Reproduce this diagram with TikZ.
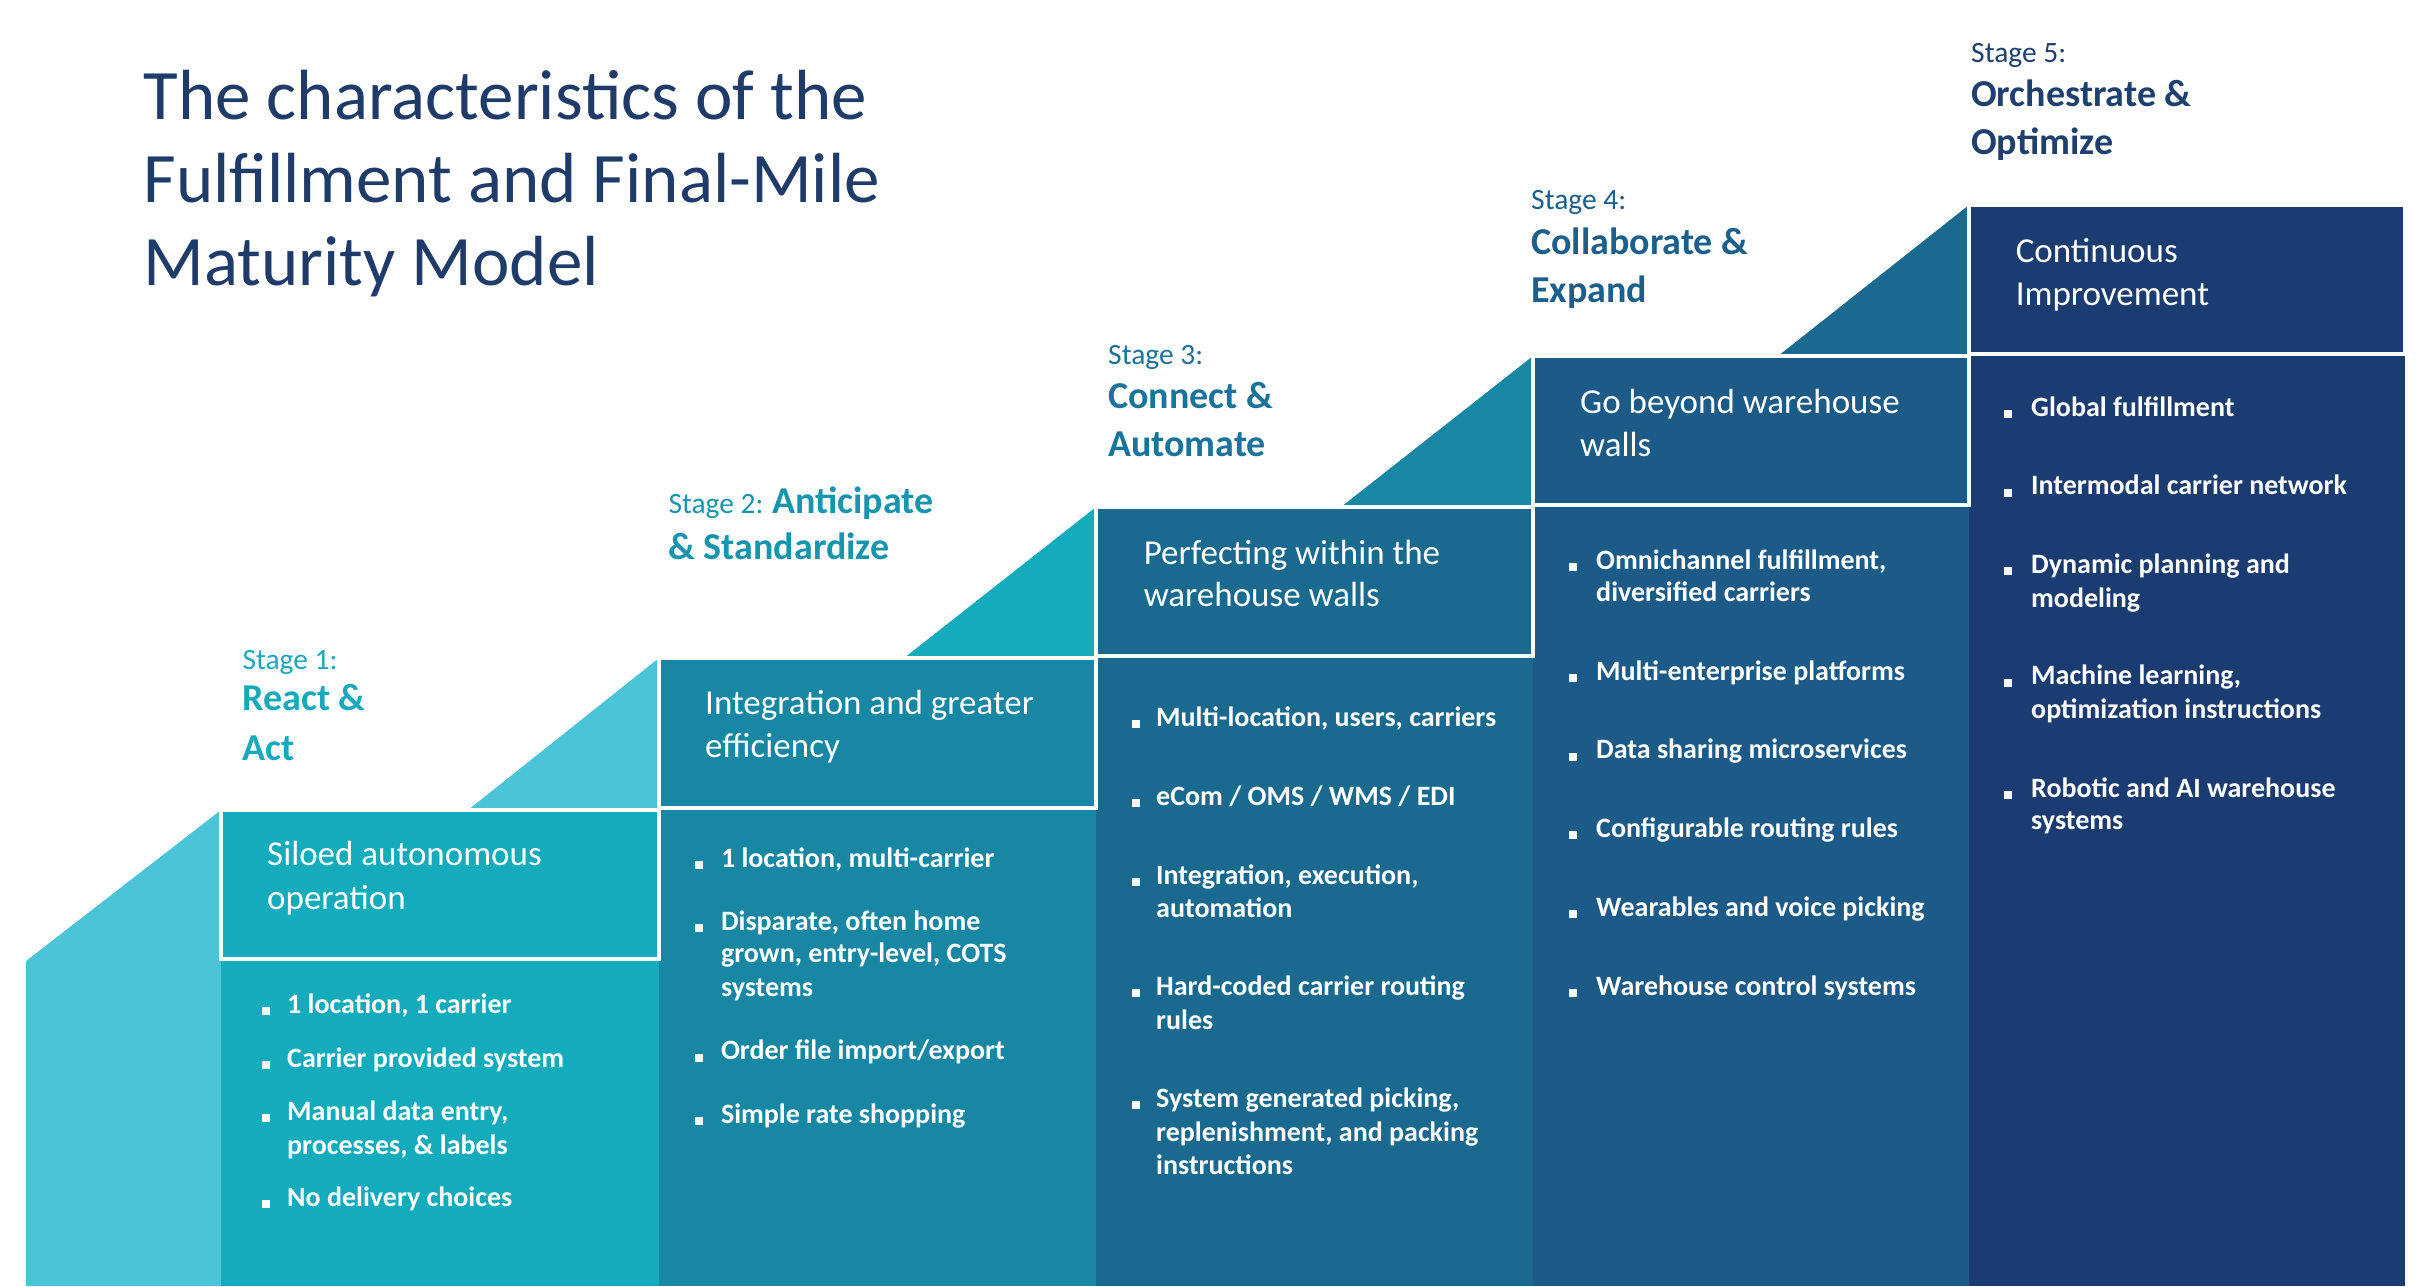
\documentclass[tikz,border=0pt]{standalone}
\usepackage{fontspec}
\setmainfont{Carlito}
\definecolor{cA}{HTML}{4BC4D8}
\definecolor{cB}{HTML}{14ABBD}
\definecolor{cC}{HTML}{1787A3}
\definecolor{cD}{HTML}{1A6A8F}
\definecolor{cE}{HTML}{1C5B87}
\definecolor{cF}{HTML}{1B3C70}
\definecolor{titlec}{HTML}{1F3B69}
\definecolor{sA}{HTML}{19A9BC}
\definecolor{sB}{HTML}{1795AE}
\definecolor{sC}{HTML}{1A739A}
\definecolor{sD}{HTML}{1C5F8C}
\definecolor{sE}{HTML}{1F3F6E}
\newcommand\bitem[5]{%
  \node[bsq] (#1s) at (#2,#4) {};
  \node[btx] (#1) at (#3,#4) {#5};}
\begin{document}
\begin{tikzpicture}[x=1pt,y=-1pt,
  ttl/.style={anchor=base west, inner sep=0, text=titlec, font=\fontsize{71}{85}\selectfont},
  stg/.style={anchor=mid west, inner sep=0, font=\fontsize{29.5}{35}\selectfont},
  stgb/.style={anchor=mid west, inner sep=0, font=\fontsize{38}{45}\selectfont\bfseries},
  hdr/.style={anchor=mid west, inner sep=0, text=white, font=\fontsize{35}{42}\selectfont},
  btx/.style={anchor=mid west, inner sep=0, text=white, font=\fontsize{28}{34}\selectfont\bfseries},
  bsq/.style={fill=white, minimum size=8, inner sep=0},
  hbox/.style={draw=white, line width=4}]
\useasboundingbox (0,0) rectangle (2420,1286);
% left strip and column bodies
\fill[cA] (26,1286) -- (26,961) -- (221,810) -- (221,1286) -- cycle;
\fill[cB] (221,810) rectangle (659,1286);
\fill[cC] (659,658) rectangle (1096,1286);
\fill[cD] (1096,507) rectangle (1533,1286);
\fill[cE] (1533,356) rectangle (1969,1286);
\fill[cF] (1969,205) rectangle (2405,1286);
% stair triangles
\fill[cA] (468,810) -- (659,658) -- (659,810) -- cycle;
\fill[cB] (904,658) -- (1096,507) -- (1096,658) -- cycle;
\fill[cC] (1341,507) -- (1533,356) -- (1533,507) -- cycle;
\fill[cD] (1778,356) -- (1969,205) -- (1969,356) -- cycle;
% header boxes
\draw[hbox] (221,810) rectangle (659,959);
\draw[hbox] (659,658) rectangle (1096,808);
\draw[hbox] (1096,507) rectangle (1533,656);
\draw[hbox] (1533,356) rectangle (1969,505);
\draw[hbox] (1969,205) rectangle (2405,354);
% title
\node[ttl] (t1) at (143.5,119) {The characteristics of the};
\node[ttl] (t2) at (143.5,202) {Fulfillment and Final-Mile};
\node[ttl] (t3) at (143.5,285.5) {Maturity Model};
% stage labels
\node[stg, text=sA] (s1a) at (242.3,667) {Stage 1:};
\node[stgb, text=sA] (s1b) at (242.3,708.5) {React \&};
\node[stgb, text=sA] (s1c) at (242.3,758) {Act};
\node[stg, text=sB] (s2a) at (668.3,511) {Stage 2: {\fontsize{38}{45}\selectfont\bfseries Anticipate}};
\node[stgb, text=sB] (s2b) at (668.3,557.5) {\& Standardize};
\node[stg, text=sC] (s3a) at (1108,362.5) {Stage 3:};
\node[stgb, text=sC] (s3b) at (1108,406) {Connect \&};
\node[stgb, text=sC] (s3c) at (1108,454) {Automate};
\node[stg, text=sD] (s4a) at (1531,207) {Stage 4:};
\node[stgb, text=sD] (s4b) at (1531,252) {Collaborate \&};
\node[stgb, text=sD] (s4c) at (1531,300) {Expand};
\node[stg, text=sE] (s5a) at (1971,60) {Stage 5:};
\node[stgb, text=sE] (s5b) at (1971,104) {Orchestrate \&};
\node[stgb, text=sE] (s5c) at (1971,152) {Optimize};
% header texts
\node[hdr] (h1a) at (267,863.5) {Siloed autonomous};
\node[hdr] (h1b) at (267,906.7) {operation};
\node[hdr] (h2a) at (705,712.2) {Integration and greater};
\node[hdr] (h2b) at (705,755.5) {efficiency};
\node[hdr] (h3a) at (1143.6,562.5) {Perfecting within the};
\node[hdr] (h3b) at (1143.6,604.2) {warehouse walls};
\node[hdr] (h4a) at (1580,411.3) {Go beyond warehouse};
\node[hdr] (h4b) at (1580,454.5) {walls};
\node[hdr] (h5a) at (2015.6,260) {Continuous};
\node[hdr] (h5b) at (2015.6,303.2) {Improvement};
% column 1 bullets
\bitem{b11}{265.5}{287}{1011}{1 location, 1 carrier}
\bitem{b12}{265.5}{287}{1065}{Carrier provided system}
\bitem{b13}{265.5}{287}{1118}{Manual data entry,}
\node[btx] (b13b) at (287,1152) {processes, \& labels};
\bitem{b14}{265.5}{287}{1204}{No delivery choices}
% column 2 bullets
\bitem{b21}{699}{720.8}{864.6}{1 location, multi-carrier}
\bitem{b22}{699}{720.8}{927.9}{Disparate, often home}
\node[btx] (b22b) at (720.8,960.3) {grown, entry-level, COTS};
\node[btx] (b22c) at (720.8,994.2) {systems};
\bitem{b23}{699}{720.8}{1057.5}{Order file import/export}
\bitem{b24}{699}{720.8}{1120.8}{Simple rate shopping}
% column 3 bullets
\bitem{b31}{1136}{1156}{724}{Multi-location, users, carriers}
\bitem{b32}{1136}{1156}{803}{eCom / OMS / WMS / EDI}
\bitem{b33}{1136}{1156}{881.6}{Integration, execution,}
\node[btx] (b33b) at (1156,915.5) {automation};
\bitem{b34}{1136}{1156}{992.7}{Hard-coded carrier routing}
\node[btx] (b34b) at (1156,1026.6) {rules};
\bitem{b35}{1136}{1156}{1105.3}{System generated picking,}
\node[btx] (b35b) at (1156,1139.3) {replenishment, and packing};
\node[btx] (b35c) at (1156,1171.7) {instructions};
% column 4 bullets
\bitem{b41}{1572.7}{1596}{566.7}{Omnichannel fulfillment,}
\node[btx] (b41b) at (1596,599.1) {diversified carriers};
\bitem{b42}{1572.7}{1596}{677.8}{Multi-enterprise platforms}
\bitem{b43}{1572.7}{1596}{756.5}{Data sharing microservices}
\bitem{b44}{1572.7}{1596}{835.3}{Configurable routing rules}
\bitem{b45}{1572.7}{1596}{914}{Wearables and voice picking}
\bitem{b46}{1572.7}{1596}{992.7}{Warehouse control systems}
% column 5 bullets
\bitem{b51}{2008}{2031}{413.9}{Global fulfillment}
\bitem{b52}{2008}{2031}{492.6}{Intermodal carrier network}
\bitem{b53}{2008}{2031}{571.3}{Dynamic planning and}
\node[btx] (b53b) at (2031,605.3) {modeling};
\bitem{b54}{2008}{2031}{682.5}{Machine learning,}
\node[btx] (b54b) at (2031,716.4) {optimization instructions};
\bitem{b55}{2008}{2031}{795.1}{Robotic and AI warehouse}
\node[btx] (b55b) at (2031,827.5) {systems};
\end{tikzpicture}
\end{document}
